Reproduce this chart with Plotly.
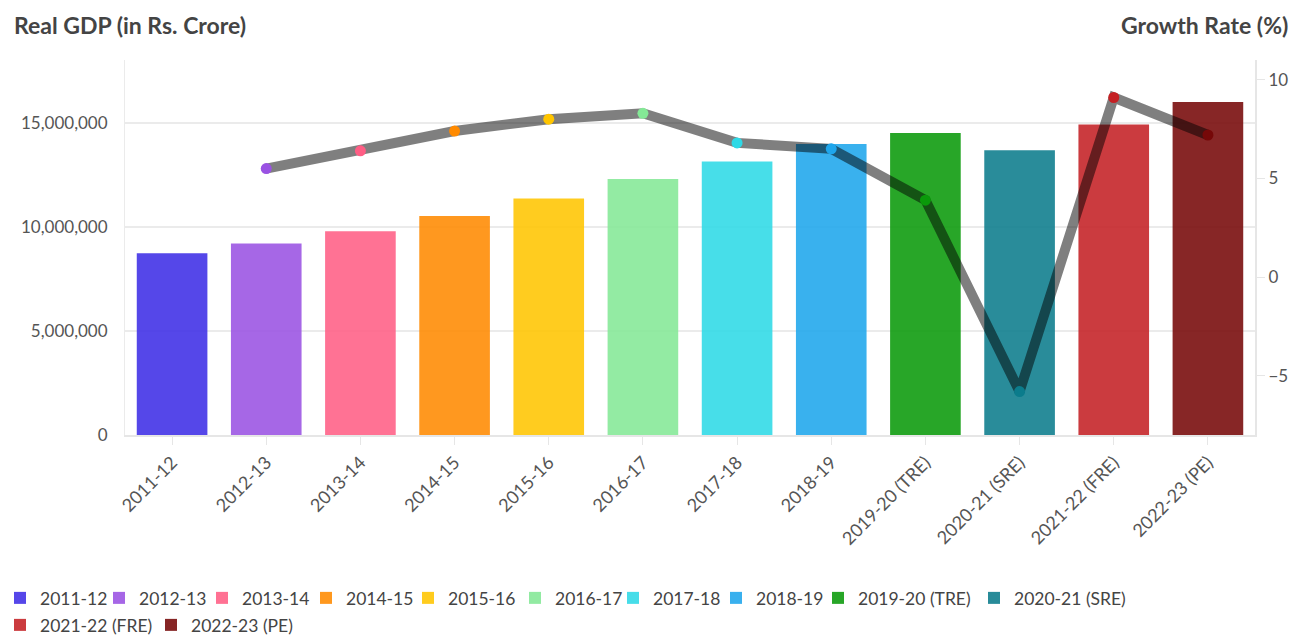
import plotly.graph_objects as go

categories = ["2011-12", "2012-13", "2013-14", "2014-15", "2015-16", "2016-17",
              "2017-18", "2018-19", "2019-20 (TRE)", "2020-21 (SRE)",
              "2021-22 (FRE)", "2022-23 (PE)"]
real_gdp = [8736329, 9213017, 9801370, 10527674, 11369493, 12308193,
            13144582, 13992914, 14515958, 13687118, 14925840, 16007276]
growth_rate = [None, 5.5, 6.4, 7.4, 8.0, 8.3, 6.8, 6.5, 3.9, -5.8, 9.1, 7.2]
colors = ["#3E2DE6", "#9A52E3", "#FF5E85", "#FF8A00", "#FFC500", "#84E896",
          "#2ED9E6", "#1EA6EC", "#0A9A0A", "#0B7C8C", "#C42024", "#760808"]

# legend entry placement (left edge of swatch in px, row centre in px)
legend_left = [14, 115, 218, 322, 424, 531, 629, 732, 834, 990, 14, 167]
legend_row = [598] * 10 + [625] * 2

W, H = 1297, 636
FONT = "Lato"
fig = go.Figure()
legends = {}
for i, (c, v, col) in enumerate(zip(categories, real_gdp, colors)):
    lname = "legend" if i == 0 else f"legend{i + 1}"
    fig.add_trace(go.Bar(x=[c], y=[v], name=c, marker=dict(color=col, line=dict(width=0)),
                         opacity=0.88, width=0.75, legend=lname))
    legends[lname] = dict(orientation="h", xref="container", yref="container",
                          x=max(legend_left[i] - 16, 0) / W, y=1 - legend_row[i] / H,
                          xanchor="left", yanchor="middle",
                          font=dict(size=17.5, color="#444444", family=FONT),
                          itemwidth=30, bgcolor="rgba(0,0,0,0)")

fig.add_trace(go.Scatter(x=categories, y=growth_rate, yaxis="y2", mode="lines+markers",
                         line=dict(color="rgba(0,0,0,0.5)", width=10),
                         marker=dict(color=colors, size=11, line=dict(width=0)),
                         showlegend=False, connectgaps=False))

fig.update_layout(
    width=W, height=H,
    paper_bgcolor="white", plot_bgcolor="white",
    margin=dict(l=125, r=42, t=60, b=201, autoexpand=False),
    font=dict(family=FONT, color="#555555", size=17),
    barmode="overlay",
    xaxis=dict(type="category", range=[-0.5, len(categories) - 0.5], tickangle=-45,
               showline=True, linecolor="#e6e6e6",
               linewidth=2, ticks="outside", ticklen=8, tickcolor="#e6e6e6",
               tickfont=dict(size=18, color="#555555"), showgrid=False),
    yaxis=dict(range=[0, 18030000], dtick=5000000, tickformat=",", showgrid=True,
               gridcolor="#ebebeb", gridwidth=1.5, showline=True, linecolor="#ebebeb",
               zeroline=False, ticks="", tickfont=dict(size=17, color="#555555"),
               ticklabelstandoff=13),
    yaxis2=dict(overlaying="y", side="right", range=[-8, 11], tickvals=[-5, 0, 5, 10],
                showgrid=False, zeroline=False, showline=True, linecolor="#e6e6e6",
                linewidth=2, ticks="outside", ticklen=8, tickcolor="#e6e6e6",
                tickfont=dict(size=17, color="#555555")),
    annotations=[
        dict(text="<b>Real GDP (in Rs. Crore)</b>", xref="paper", yref="paper",
             x=0, y=1, xshift=-113, yshift=35, xanchor="left", yanchor="middle",
             showarrow=False, font=dict(size=23, color="#444444", family=FONT)),
        dict(text="<b>Growth Rate (%)</b>", xref="paper", yref="paper",
             x=1, y=1, xshift=35, yshift=35, xanchor="right", yanchor="middle",
             showarrow=False, font=dict(size=23, color="#444444", family=FONT)),
    ],
)
fig.update_layout(**legends)

fig.write_html("out.html", config={"displayModeBar": False},
               post_script="document.body.style.margin='0';document.body.style.overflow='hidden';")
